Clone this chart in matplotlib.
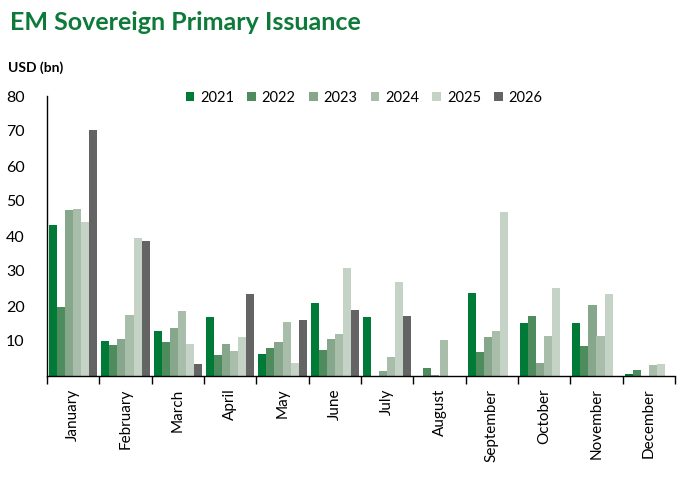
import matplotlib
matplotlib.use("Agg")
import matplotlib.pyplot as plt
import numpy as np

months = ["January", "February", "March", "April", "May", "June", "July",
          "August", "September", "October", "November", "December"]
years = ["2021", "2022", "2023", "2024", "2025", "2026"]

v2021 = [43.2, 10.0, 12.9, 16.9, 6.3, 20.9, 16.9, 0.0, 23.8, 15.2, 15.2, 0.6]
v2022 = [19.8, 8.9, 9.7, 6.0, 8.0, 7.4, 0.0, 2.3, 6.9, 17.2, 8.6, 1.7]
v2023 = [47.5, 10.6, 13.7, 9.2, 9.7, 10.6, 1.4, 0.3, 11.2, 3.7, 20.3, 0.0]
v2024 = [47.8, 17.5, 18.6, 7.2, 15.5, 12.0, 5.4, 10.3, 12.9, 11.5, 11.5, 3.2]
v2025 = [44.1, 39.5, 9.2, 11.2, 3.7, 30.9, 26.9, 0.0, 47.0, 25.2, 23.5, 3.4]
v2026 = [70.2, 38.7, 3.4, 23.5, 16.0, 18.9, 17.2, 0.0, 0.0, 0.0, 0.0, 0.0]

series = [v2021, v2022, v2023, v2024, v2025, v2026]
colors = ["#007A37", "#4E8C5E", "#86A78C", "#A9BEAA", "#C5D3C7", "#646464"]
yticks = [10, 20, 30, 40, 50, 60, 70, 80]

plt.rcParams['font.family'] = ['Lato', 'DejaVu Sans']

fig = plt.figure(figsize=(6.88, 4.92), dpi=100)
ax = fig.add_axes([47/688, 1-376/492, 628/688, 280/492])

x = np.arange(len(months))
bw = 0.153
for i, (vals, c, yr) in enumerate(zip(series, colors, years)):
    ax.bar(x + (i - 2.5) * bw, vals, width=bw, color=c, label=yr, linewidth=0)

ax.set_xlim(-0.5, len(months) - 0.5)
ax.set_ylim(0, 80)
ax.set_yticks(yticks)
ax.set_yticklabels([str(t) for t in yticks], fontsize=11.5)
ax.tick_params(axis='y', length=0, pad=16)

ax.set_xticks(x)
ax.set_xticklabels(months, rotation=90, fontsize=11)
ax.tick_params(axis='x', which='major', length=0, pad=9)
ax.set_xticks(np.arange(-0.5, len(months), 1.0), minor=True)
ax.tick_params(axis='x', which='minor', length=6, width=1, direction='out', color='black')

for s in ['top', 'right']:
    ax.spines[s].set_visible(False)
ax.spines['left'].set_linewidth(1)
ax.spines['bottom'].set_linewidth(1)

leg = ax.legend(ncol=6, loc='upper center', bbox_to_anchor=(0.505, 1.065), frameon=False,
                fontsize=10.5, handlelength=0.6, handleheight=0.6, handletextpad=0.4,
                columnspacing=0.9)

fig.text(10/688, 1-22/492, "EM Sovereign Primary Issuance", fontsize=18, fontweight='bold',
         color="#0E7A3A", va='center', ha='left')
fig.text(8/688, 1-68/492, "USD (bn)", fontsize=10, fontweight='bold', color='black',
         va='center', ha='left')

fig.savefig("out.png", dpi=100)
